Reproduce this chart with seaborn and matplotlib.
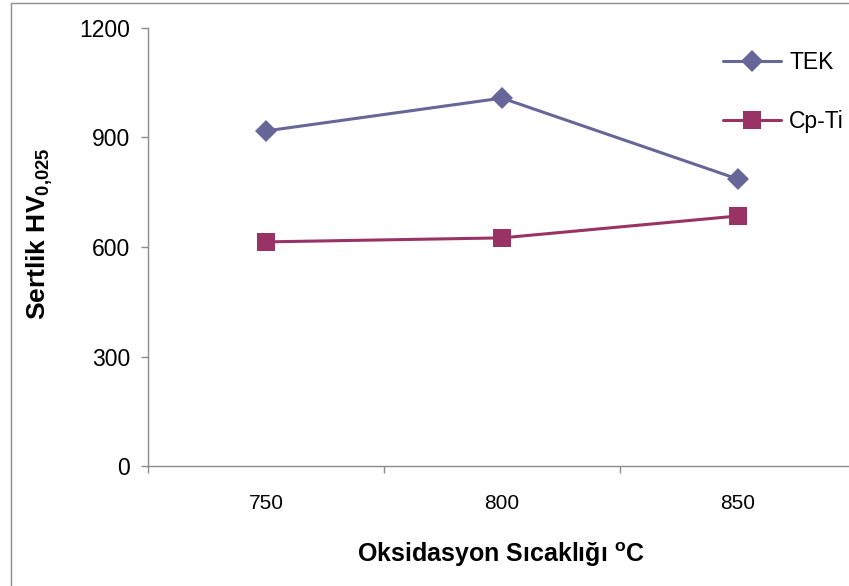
import pandas as pd
import numpy as np
import matplotlib
matplotlib.use("Agg")
import matplotlib.pyplot as plt
import seaborn as sns
from matplotlib.lines import Line2D
from matplotlib.patches import Rectangle

# values
sicaklik = ["750", "800", "850"]
tek = [918, 1008, 786]
cp_ti = [614, 625, 685]
seriler = ["TEK", "Cp-Ti"]
renkler = {"TEK": "#666699", "Cp-Ti": "#993366"}
isaretler = {"TEK": "D", "Cp-Ti": "s"}
y_ticks = [0, 300, 600, 900, 1200]

df = pd.DataFrame({
    "Sicaklik": sicaklik * 2,
    "Sertlik": tek + cp_ti,
    "Malzeme": ["TEK"] * 3 + ["Cp-Ti"] * 3,
})

sns.set_style("white")
plt.rcParams["font.family"] = ["Liberation Sans", "DejaVu Sans"]
plt.rcParams["mathtext.fontset"] = "custom"
plt.rcParams["mathtext.rm"] = "Liberation Sans"
plt.rcParams["mathtext.bf"] = "Liberation Sans:bold"
plt.rcParams["text.color"] = "black"
plt.rcParams["xtick.color"] = "black"
plt.rcParams["ytick.color"] = "black"

fig = plt.figure(figsize=(8.49, 5.86), dpi=100)
ax = fig.add_axes([148 / 849, 120 / 586, 708 / 849, 438 / 586])

sns.lineplot(data=df, x="Sicaklik", y="Sertlik", hue="Malzeme", style="Malzeme",
             palette=renkler, markers=isaretler, dashes=False, ax=ax,
             linewidth=2.2, markeredgewidth=0, legend=False, sort=False)
# diamonds need a smaller ms to look the same size as the squares
for ln in ax.lines:
    ln.set_markersize(12.5 if ln.get_marker() == "s" else 11.5)

ax.set_xlim(-0.5, 2.5)
ax.set_ylim(0, 1200)
ax.set_yticks(y_ticks)
ax.set_xticks([-0.5, 0.5, 1.5, 2.5])
ax.set_xticklabels([])
ax.set_xticks([0, 1, 2], minor=True)
ax.set_xticklabels(sicaklik, minor=True, fontsize=15)
ax.tick_params(axis="x", which="major", direction="out", length=5, width=1, color="#8c8c8c", bottom=True)
ax.tick_params(axis="x", which="minor", length=0, pad=20, labelcolor="black")
ax.tick_params(axis="y", direction="out", length=5, width=1, color="#8c8c8c", labelsize=16.5, pad=8,
               left=True, labelcolor="black")
ax.set_xlabel("")
ax.set_ylabel("")
for s in ["top", "right"]:
    ax.spines[s].set_visible(False)
for s in ["left", "bottom"]:
    ax.spines[s].set_color("#8c8c8c")
    ax.spines[s].set_linewidth(1)

handles = [Line2D([], [], color=renkler[m], marker=isaretler[m], lw=2.2, mew=0,
                  ms=12.5 if isaretler[m] == "s" else 11.5) for m in seriler]
fig.legend(handles, seriler, loc="upper left", bbox_to_anchor=(702 / 849, 1 - 30 / 586),
           frameon=False, fontsize=16.5, handlelength=2.55, handletextpad=0.35, labelspacing=1.6)

fig.text(501 / 849, 1 - 555 / 586, r"Oksidasyon Sıcaklığı $^{\mathbf{o}}$C",
         ha="center", va="center", fontsize=18, fontweight="bold")
fig.text(40 / 849, 1 - 234 / 586, r"Sertlik HV$_{\mathbf{0{,}025}}$", rotation=90,
         ha="center", va="center", fontsize=19, fontweight="bold")

fig.patches.append(Rectangle((11 / 849, -0.1), 1.2, 1 - 3 / 586 + 0.1, transform=fig.transFigure,
                             fill=False, edgecolor="#8c8c8c", linewidth=1))

fig.savefig("out.png", dpi=100)
